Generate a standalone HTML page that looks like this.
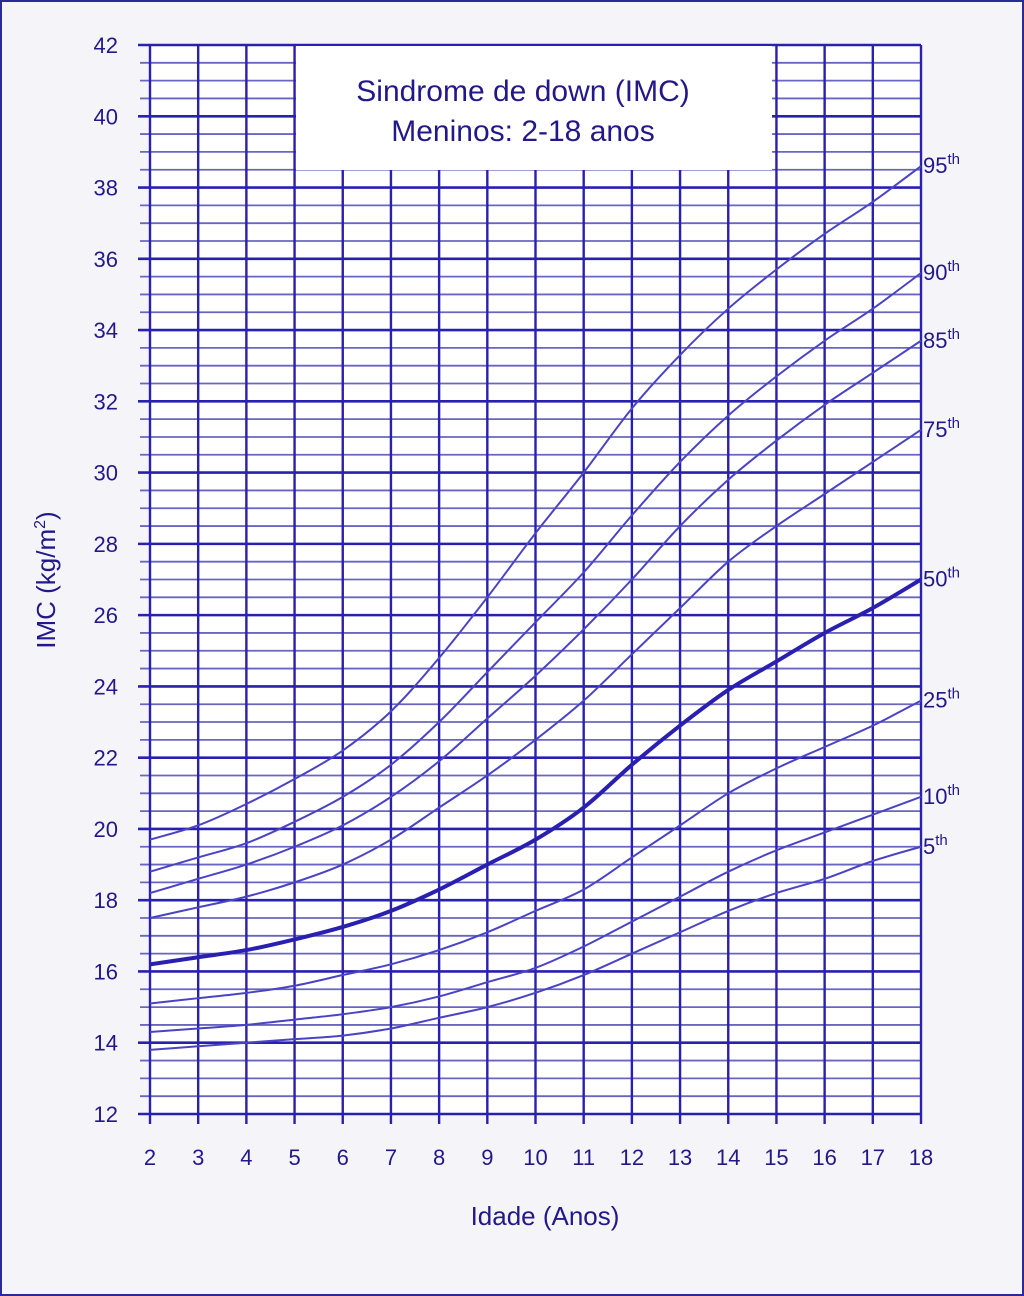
<!DOCTYPE html>
<html><head><meta charset="utf-8"><style>
html,body{margin:0;padding:0;background:#f5f5f9;}
svg{display:block;}
text{font-family:"Liberation Sans",sans-serif;fill:#23188a;}
</style></head><body>
<svg width="1024" height="1296" viewBox="0 0 1024 1296" id="chart">
<rect x="1" y="1" width="1022" height="1294" fill="#f5f5f9" stroke="#2a2a9a" stroke-width="2"/>
<rect x="150" y="45" width="771" height="1069" fill="#ffffff"/>
<g id="grid"></g>
<rect x="296" y="46" width="476" height="124" fill="#ffffff"/>
<text x="523" y="101" font-size="30" text-anchor="middle">Sindrome de down (IMC)</text>
<text x="523" y="141" font-size="30" text-anchor="middle">Meninos: 2-18 anos</text>
<g id="curves"></g>
<g id="labels"></g>
<text x="545" y="1225" font-size="26" text-anchor="middle">Idade (Anos)</text>
<text transform="translate(55,580) rotate(-90)" font-size="26" text-anchor="middle">IMC (kg/m<tspan font-size="16" dy="-10">2</tspan><tspan dy="10">)</tspan></text>
</svg>
<script>
const ages=[2,3,4,5,6,7,8,9,10,11,12,13,14,15,16,17,18];
const yTicks=[12,14,16,18,20,22,24,26,28,30,32,34,36,38,40,42];
const pctNames=["95","90","85","75","50","25","10","5"];
const p95=[19.7,20.1,20.7,21.4,22.2,23.3,24.8,26.5,28.3,30.0,31.8,33.3,34.6,35.7,36.7,37.6,38.6];
const p90=[18.8,19.2,19.6,20.2,20.9,21.8,23.0,24.4,25.8,27.2,28.8,30.3,31.6,32.7,33.7,34.6,35.6];
const p85=[18.2,18.6,19.0,19.5,20.1,20.9,21.9,23.1,24.3,25.6,27.0,28.5,29.8,30.9,31.9,32.8,33.7];
const p75=[17.5,17.8,18.1,18.5,19.0,19.7,20.6,21.5,22.5,23.6,24.9,26.2,27.5,28.5,29.4,30.3,31.2];
const p50=[16.2,16.4,16.6,16.9,17.25,17.7,18.3,19.0,19.7,20.6,21.8,22.9,23.9,24.7,25.5,26.2,27.0];
const p25=[15.1,15.25,15.4,15.6,15.9,16.2,16.6,17.1,17.7,18.3,19.2,20.1,21.0,21.7,22.3,22.9,23.6];
const p10=[14.3,14.4,14.5,14.65,14.8,15.0,15.3,15.7,16.1,16.7,17.4,18.1,18.8,19.4,19.9,20.4,20.9];
const p5=[13.8,13.9,14.0,14.1,14.2,14.4,14.7,15.0,15.4,15.9,16.5,17.1,17.7,18.2,18.6,19.1,19.5];
const series=[p95,p90,p85,p75,p50,p25,p10,p5];

const NS="http://www.w3.org/2000/svg";
const x=a=>150+(a-2)*(771/16);
const y=v=>1114-(v-12)*(1069/30);
function mk(tag,attrs,parent){const e=document.createElementNS(NS,tag);for(const k in attrs)e.setAttribute(k,attrs[k]);parent.appendChild(e);return e;}
const grid=document.getElementById('grid');
// minor horizontal lines
for(let v=12;v<=42.001;v+=0.5){
  const major=Math.abs(v/2-Math.round(v/2))<1e-6;
  const l=mk('line',{x1:major?138:140,x2:921,y1:y(v),y2:y(v),stroke:major?'#2a20b0':'#6a66c0','stroke-width':major?2.6:1.8},grid);
  
  
}
for(const a of ages){
  const l=mk('line',{x1:x(a),x2:x(a),y1:45,y2:1124,stroke:'#2a20b0','stroke-width':2.4},grid);
  
  
  const t=mk('text',{x:x(a),y:1165,'font-size':22,'text-anchor':'middle'},grid);
  t.textContent=a;
  
  
}
for(const v of yTicks){
  const t=mk('text',{x:118,y:y(v)+8,'font-size':22,'text-anchor':'end'},grid);
  t.textContent=v;
  
  
}
const curves=document.getElementById('curves');
const labels=document.getElementById('labels');
series.forEach((s,i)=>{
  const pts=s.map((v,j)=>[x(ages[j]),y(v)]);
  let d='M'+pts[0][0]+','+pts[0][1];
  for(let j=0;j<pts.length-1;j++){
    const p0=pts[Math.max(0,j-1)],p1=pts[j],p2=pts[j+1],p3=pts[Math.min(pts.length-1,j+2)];
    const c1=[p1[0]+(p2[0]-p0[0])/6,p1[1]+(p2[1]-p0[1])/6];
    const c2=[p2[0]-(p3[0]-p1[0])/6,p2[1]-(p3[1]-p1[1])/6];
    d+=' C'+c1[0]+','+c1[1]+' '+c2[0]+','+c2[1]+' '+p2[0]+','+p2[1];
  }
  const bold=pctNames[i]==="50";
  const p=mk('path',{d:d,fill:'none',stroke:bold?'#2a20b0':'#4a44c4','stroke-width':bold?4:2},curves);
  
  
  const t=mk('text',{x:923,y:y(s[s.length-1])+7,'font-size':22},labels);
  t.textContent=pctNames[i];
  const sp=mk('tspan',{dy:-9,'font-size':15},t);
  sp.textContent='th';
  
  
});
</script>
</body></html>
